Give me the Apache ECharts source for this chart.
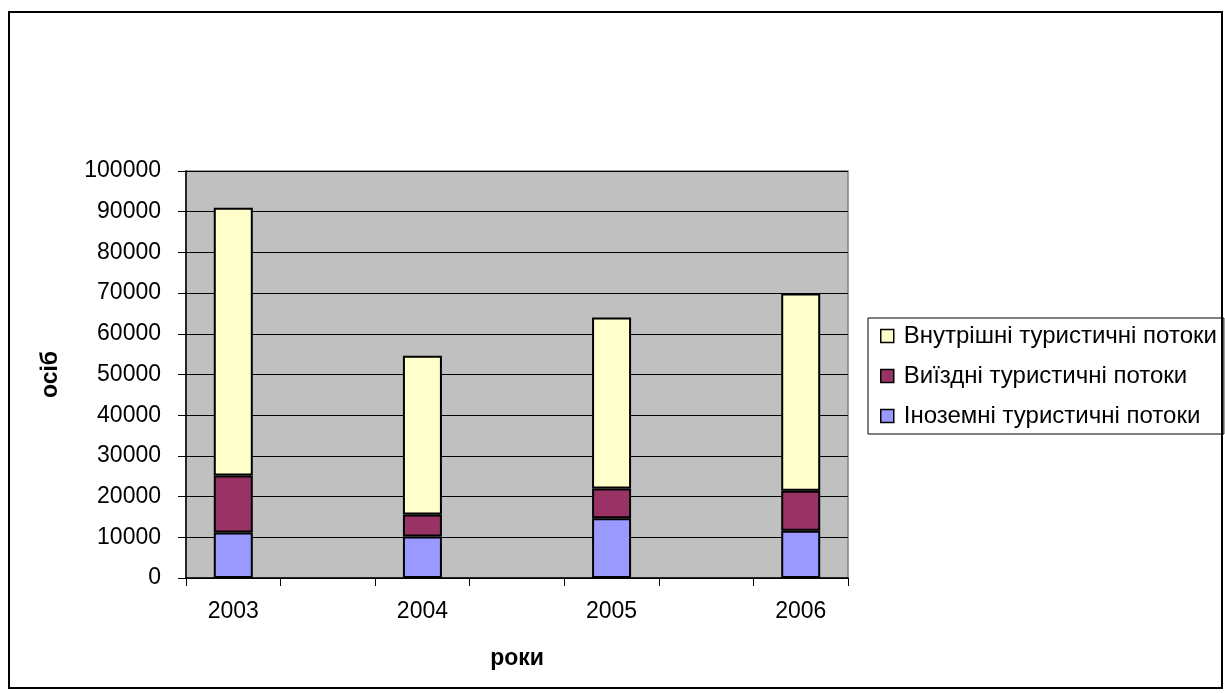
<!DOCTYPE html>
<html><head><meta charset="utf-8">
<script src="https://cdn.jsdelivr.net/npm/echarts@6/dist/echarts.min.js"></script>
<style>html,body{margin:0;padding:0;background:#fff}#c{width:1225px;height:693px}</style>
</head><body><div id="c"></div>
<script>
// Categories include blank slots between years, as in the reference
const years = ['2003', '', '2004', '', '2005', '', '2006'];
const foreignFlows = [11200, null, 10200, null, 14700, null, 11600];
const outboundFlows = [14000, null, 5400, null, 7300, null, 9850];
const domesticFlows = [65800, null, 39000, null, 42000, null, 48450];
const yTicks = {min: 0, max: 100000, interval: 10000};
const seriesNames = ['Внутрішні туристичні потоки', 'Виїздні туристичні потоки', 'Іноземні туристичні потоки'];

const font = 'Arial, "Liberation Sans", sans-serif';
const fs = 23;
const chart = echarts.init(document.getElementById('c'), null, {renderer: 'canvas'});
const barStyle = c => ({color: c, borderColor: '#000', borderWidth: 2});
chart.setOption({
  animation: false,
  textStyle: {fontFamily: font},
  grid: {left: 186, top: 171, width: 662, height: 407, show: true, backgroundColor: '#C0C0C0', borderColor: '#808080', borderWidth: 1.5},
  graphic: [{type: 'rect', shape: {x: 9, y: 12, width: 1213, height: 676}, style: {fill: 'none', stroke: '#000', lineWidth: 2}, z: 100}],
  legend: {
    data: seriesNames, orient: 'vertical', left: 868, top: 318,
    itemWidth: 13, itemHeight: 13, itemGap: 16, icon: 'rect',
    backgroundColor: '#fff', borderColor: '#000', borderWidth: 1,
    padding: [6, 7, 6, 12],
    textStyle: {fontFamily: font, fontSize: 24, color: '#000', padding: [0, 0, 0, 5]},
    itemStyle: {borderColor: '#000', borderWidth: 1.5}
  },
  xAxis: {
    type: 'category', data: years, boundaryGap: true,
    name: 'роки', nameLocation: 'middle', nameGap: 69,
    nameTextStyle: {fontFamily: font, fontSize: fs, fontWeight: 'bold', color: '#000'},
    axisLine: {lineStyle: {color: '#000', width: 1.5}},
    axisTick: {show: true, interval: 0, length: 8, lineStyle: {color: '#000'}},
    axisLabel: {fontFamily: font, fontSize: fs, color: '#000', margin: 22, interval: 0},
    splitLine: {show: false}
  },
  yAxis: {
    type: 'value', min: yTicks.min, max: yTicks.max, interval: yTicks.interval,
    name: 'осіб', nameLocation: 'middle', nameGap: 124, nameRotate: 90,
    nameTextStyle: {fontFamily: font, fontSize: fs, fontWeight: 'bold', color: '#000'},
    axisLine: {show: true, lineStyle: {color: '#000', width: 1.5}},
    axisTick: {show: true, length: 8, inside: false, lineStyle: {color: '#000'}},
    axisLabel: {fontFamily: font, fontSize: fs, color: '#000', margin: 25, formatter: v => String(v)},
    splitLine: {show: true, lineStyle: {color: '#000', width: 1}}
  },
  series: [
    {name: seriesNames[2], type: 'bar', stack: 's', data: foreignFlows, barWidth: 39, itemStyle: barStyle('#9999FF')},
    {name: seriesNames[1], type: 'bar', stack: 's', data: outboundFlows, barWidth: 39, itemStyle: barStyle('#993366')},
    {name: seriesNames[0], type: 'bar', stack: 's', data: domesticFlows, barWidth: 39, itemStyle: barStyle('#FFFFCC')}
  ]
});
</script></body></html>
